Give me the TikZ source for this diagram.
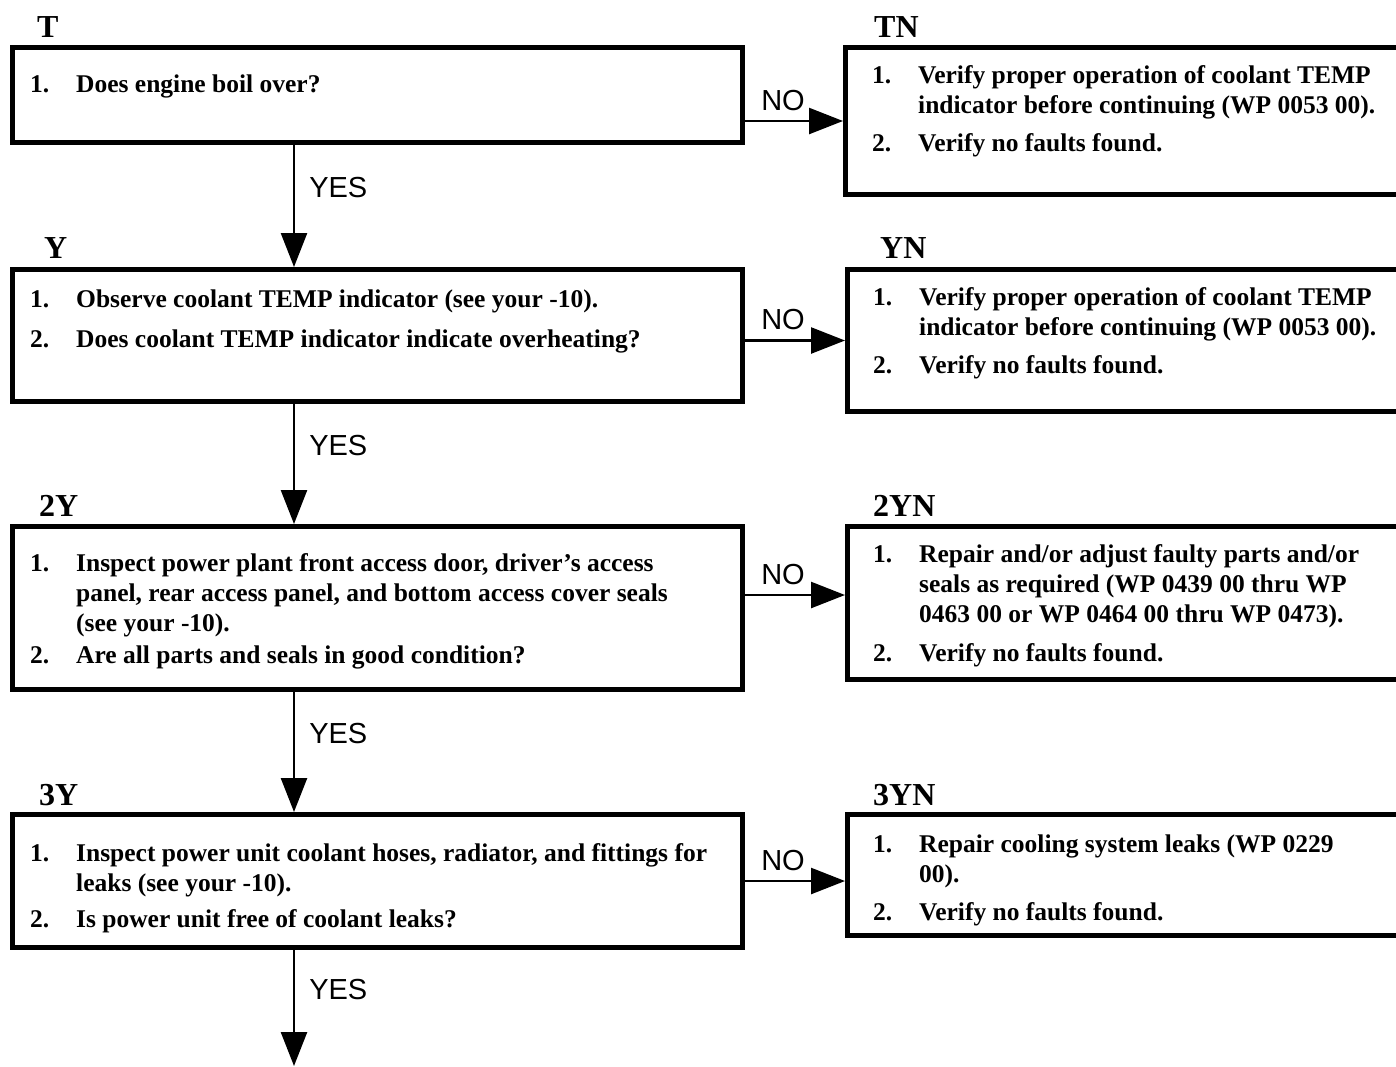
\documentclass[tikz,border=0pt]{standalone}
\usepackage{fontspec}
\setmainfont{Liberation Serif}
\newfontfamily\lblfont{Liberation Sans}
\usetikzlibrary{arrows.meta}

% one numbered step: number, then its lines
\newcommand{\itm}[2]{\makebox[46pt][l]{#1}\begin{tabular}[t]{@{}l@{}}#2\end{tabular}}

\begin{document}
\begin{tikzpicture}[
    x=1pt, y=-1pt,
    box/.style={draw, line width=5pt, rectangle, anchor=north west, inner sep=0pt, minimum width=730pt},
    txt/.style={anchor=north west, align=left, inner sep=0pt, font=\fontsize{25.5}{30}\selectfont\bfseries},
    head/.style={anchor=base west, inner sep=0pt, font=\fontsize{32}{32}\selectfont\bfseries},
    lbl/.style={anchor=base west, inner sep=0pt, font=\lblfont\fontsize{29}{29}\selectfont},
    arr/.style={-{Triangle[length=34pt,width=26pt]}, line width=2.5pt}
]
\useasboundingbox (0,0) rectangle (1396,1066);
\clip (0,0) rectangle (1396,1066);
\coordinate (ax) at (294,0);

% T
\node[head] (hT) at (37,37) {T};
\node[box, minimum height=95pt] (T) at (10,45) {};
\node[txt] (tT) at (30,71) {\itm{1.}{Does engine boil over?}};

% TN
\node[head] (hTN) at (874,37) {TN};
\node[box, minimum width=562pt, minimum height=147pt] (TN) at (843,45) {};
\node[txt] (tTN) at (872,62) {\itm{1.}{Verify proper operation of coolant TEMP\\indicator before continuing (WP 0053 00).}\\[7pt]
  \itm{2.}{Verify no faults found.}};

% Y
\node[head] (hY) at (44,258) {Y};
\node[box, minimum height=132pt] (Y) at (10,267) {};
\node[txt] (tY) at (30,286) {\itm{1.}{Observe coolant TEMP indicator (see your -10).}\\[10pt]
  \itm{2.}{Does coolant TEMP indicator indicate overheating?}};

% YN
\node[head] (hYN) at (880,258) {YN};
\node[box, minimum width=562pt, minimum height=142pt] (YN) at (845,267) {};
\node[txt] (tYN) at (873,284) {\itm{1.}{Verify proper operation of coolant TEMP\\indicator before continuing (WP 0053 00).}\\[7pt]
  \itm{2.}{Verify no faults found.}};

% 2Y
\node[head] (hY2) at (39,516) {2Y};
\node[box, minimum height=163pt] (Y2) at (10,524) {};
\node[txt] (tY2) at (30,550) {\itm{1.}{Inspect power plant front access door, driver's access\\panel, rear access panel, and bottom access cover seals\\(see your -10).}\\[1pt]
  \itm{2.}{Are all parts and seals in good condition?}};

% 2YN
\node[head] (hY2N) at (873,516) {2YN};
\node[box, minimum width=562pt, minimum height=153pt] (Y2N) at (845,524) {};
\node[txt] (tY2N) at (873,541) {\itm{1.}{Repair and/or adjust faulty parts and/or\\seals as required (WP 0439 00 thru WP\\0463 00 or WP 0464 00 thru WP 0473).}\\[8pt]
  \itm{2.}{Verify no faults found.}};

% 3Y
\node[head] (hY3) at (39,805) {3Y};
\node[box, minimum height=133pt] (Y3) at (10,812) {};
\node[txt] (tY3) at (30,840) {\itm{1.}{Inspect power unit coolant hoses, radiator, and fittings for\\leaks (see your -10).}\\[5pt]
  \itm{2.}{Is power unit free of coolant leaks?}};

% 3YN
\node[head] (hY3N) at (873,805) {3YN};
\node[box, minimum width=562pt, minimum height=121pt] (Y3N) at (845,812) {};
\node[txt] (tY3N) at (873,831) {\itm{1.}{Repair cooling system leaks (WP 0229\\00).}\\[7pt]
  \itm{2.}{Verify no faults found.}};

% NO arrows
\coordinate (in3) at ([yshift=8pt]Y2N.west);
\draw[arr] (T.east |- TN.west) -- (TN.west)
  node[lbl, pos=0, xshift=15pt, yshift=11pt] (no1) {NO};
\draw[arr] (Y.east |- YN.west) -- (YN.west)
  node[lbl, pos=0, xshift=15pt, yshift=11pt] (no2) {NO};
\draw[arr] (Y2.east |- in3) -- (in3)
  node[lbl, pos=0, xshift=15pt, yshift=11pt] (no3) {NO};
\draw[arr] (Y3.east) -- (Y3.east -| Y3N.west)
  node[lbl, pos=0, xshift=15pt, yshift=11pt] (no4) {NO};

% YES arrows
\coordinate (out) at (294,1066);
\draw[arr] (T.south -| ax) -- (Y.north -| ax)
  node[lbl, midway, xshift=14pt, yshift=9pt] (yes1) {YES};
\draw[arr] (Y.south -| ax) -- (Y2.north -| ax)
  node[lbl, midway, xshift=14pt, yshift=9pt] (yes2) {YES};
\draw[arr] (Y2.south -| ax) -- (Y3.north -| ax)
  node[lbl, midway, xshift=14pt, yshift=9pt] (yes3) {YES};
\draw[arr] (Y3.south -| ax) -- (out)
  node[lbl, midway, xshift=14pt, yshift=9pt] (yes4) {YES};
\end{tikzpicture}
\end{document}
